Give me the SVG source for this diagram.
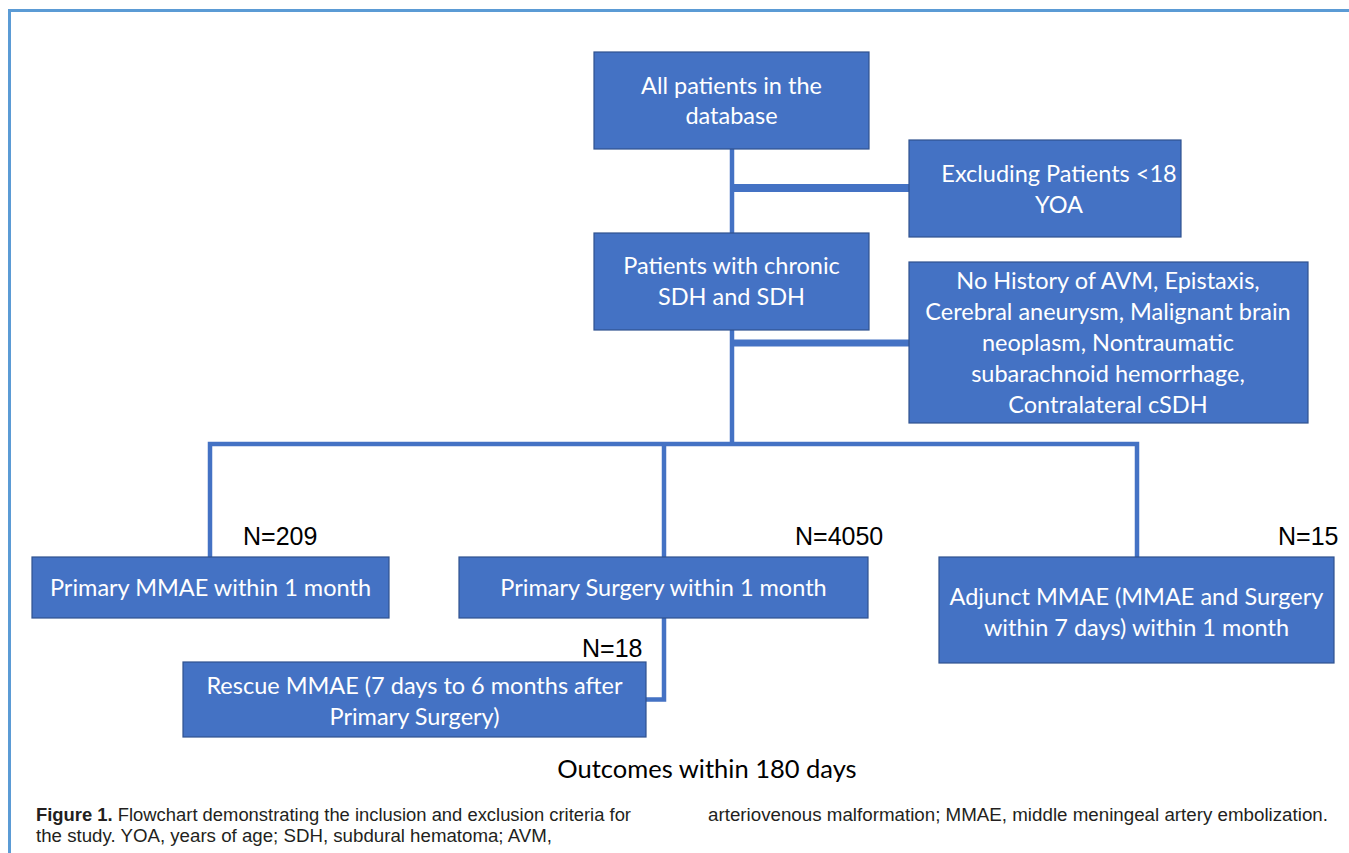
<svg xmlns="http://www.w3.org/2000/svg" width="1349" height="853" viewBox="0 0 1349 853">
<style>
.box{fill:#4472c4;stroke:#2f528f;stroke-width:1.2}
.bt{font-family:Lato,"Open Sans",sans-serif;font-size:23.5px;fill:#fff;text-anchor:middle}
.n{font-family:"Liberation Sans",Arial,sans-serif;font-size:25px;fill:#000}
.con{fill:none;stroke:#4472c4;stroke-width:4.5}
.cap{font-family:"Liberation Sans",Arial,sans-serif;font-size:17.5px;fill:#231f20}
</style>
<rect x="0" y="0" width="1349" height="853" fill="#fff"/>
<path d="M9.5 853 V10.5 H1349" fill="none" stroke="#5b9bd5" stroke-width="3"/>
<g id="connectors">
<path class="con" d="M732 149 V233"/>
<path class="con" d="M732 188 H909" style="stroke-width:8"/>
<path class="con" d="M732 330 V444"/>
<path class="con" d="M732 343 H909" style="stroke-width:7"/>
<path class="con" d="M210 557 V444 H1137 V557"/>
<path class="con" d="M664 444 V557"/>
<path class="con" d="M664 618 V699.5 H646"/>
</g>
<g id="n1"><rect class="box" x="594" y="52" width="275" height="97"/>
<text class="bt" x="731.5" y="94">All patients in the</text><text class="bt" x="731.5" y="124">database</text></g>
<g id="n2"><rect class="box" x="909" y="140" width="272" height="97"/>
<text class="bt" x="1059" y="182">Excluding Patients &lt;18</text><text class="bt" x="1059" y="213">YOA</text></g>
<g id="n3"><rect class="box" x="594" y="233" width="275" height="97"/>
<text class="bt" x="731.5" y="274">Patients with chronic</text><text class="bt" x="731.5" y="305">SDH and SDH</text></g>
<g id="n4"><rect class="box" x="909" y="262" width="399" height="161"/>
<text class="bt" x="1108" y="289">No History of AVM, Epistaxis,</text>
<text class="bt" x="1108" y="320">Cerebral aneurysm, Malignant brain</text>
<text class="bt" x="1108" y="351">neoplasm, Nontraumatic</text>
<text class="bt" x="1108" y="382">subarachnoid hemorrhage,</text>
<text class="bt" x="1108" y="413">Contralateral cSDH</text></g>
<g id="n5"><rect class="box" x="32" y="557" width="357" height="61"/>
<text class="bt" x="210.5" y="596">Primary MMAE within 1 month</text>
<text class="n" x="243" y="545">N=209</text></g>
<g id="n6"><rect class="box" x="459" y="557" width="409" height="61"/>
<text class="bt" x="663.5" y="596">Primary Surgery within 1 month</text>
<text class="n" x="795" y="545">N=4050</text></g>
<g id="n7"><rect class="box" x="939" y="557" width="395" height="106"/>
<text class="bt" x="1136.5" y="605">Adjunct MMAE (MMAE and Surgery</text>
<text class="bt" x="1136.5" y="636">within 7 days) within 1 month</text>
<text class="n" x="1278" y="545">N=15</text></g>
<g id="n8"><rect class="box" x="183" y="662" width="463" height="75"/>
<text class="bt" x="414.5" y="694">Rescue MMAE (7 days to 6 months after</text>
<text class="bt" x="414.5" y="725">Primary Surgery)</text>
<text class="n" x="582" y="657">N=18</text></g>
<text x="707" y="778" style="font-family:Lato,'Open Sans',sans-serif;font-size:25.5px;fill:#000;text-anchor:middle">Outcomes within 180 days</text>
<g id="caption">
<text class="cap" x="36" y="821" textLength="595" lengthAdjust="spacingAndGlyphs"><tspan font-weight="bold">Figure 1.</tspan> Flowchart demonstrating the inclusion and exclusion criteria for</text>
<text class="cap" x="36" y="842" textLength="516" lengthAdjust="spacingAndGlyphs">the study. YOA, years of age; SDH, subdural hematoma; AVM,</text>
<text class="cap" x="708" y="821" textLength="620" lengthAdjust="spacingAndGlyphs">arteriovenous malformation; MMAE, middle meningeal artery embolization.</text>
</g>
</svg>
